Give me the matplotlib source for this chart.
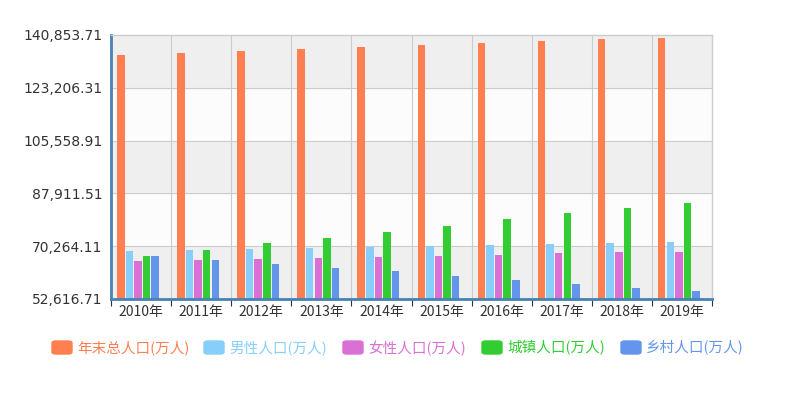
import matplotlib

matplotlib.use('Agg')
import matplotlib.pyplot as plt
from matplotlib.patches import FancyBboxPatch
import numpy as np

plt.rcParams['font.family'] = ['Noto Sans CJK SC', 'DejaVu Sans']

years = ['2010年', '2011年', '2012年', '2013年', '2014年',
         '2015年', '2016年', '2017年', '2018年', '2019年']
series_names = ['年末总人口(万人)', '男性人口(万人)', '女性人口(万人)',
                '城镇人口(万人)', '乡村人口(万人)']
total = [134091, 134735, 135404, 136072, 136782, 137462, 138271, 139008, 139538, 140005]
male = [68748, 69068, 69395, 69728, 70079, 70414, 70815, 71137, 71351, 71527]
female = [65343, 65667, 66009, 66344, 66703, 67048, 67456, 67871, 68187, 68478]
urban = [66978, 69079, 71182, 73111, 74916, 77116, 79298, 81347, 83137, 84843]
rural = [67113, 65656, 64222, 62961, 61866, 60346, 58973, 57661, 56401, 55162]
colors = ['#ff7f50', '#87cefa', '#da70d6', '#32cd32', '#6495ed']

y_min, y_max = 52616.71, 140853.71
y_ticks = np.linspace(y_min, y_max, 6)

fig = plt.figure(figsize=(7.92, 3.95), dpi=100)
ax = fig.add_axes([111 / 792, 1 - 299 / 395, 601 / 792, 264 / 395])

# 交替背景色带
for i in range(5):
    c = '#efefef' if i % 2 == 0 else '#fcfcfc'
    ax.axhspan(y_ticks[i], y_ticks[i + 1], color=c, zorder=0)
for t in y_ticks[1:-1]:
    ax.axhline(t, color='#cccccc', lw=0.8, zorder=1)
for k in range(1, len(years)):
    ax.axvline(k, color='#cccccc', lw=0.8, zorder=1)

x = np.arange(len(years))
bw = 7.5 / 60
step = 8.6 / 60
start = 6 / 60 + bw / 2
for j, vals in enumerate([total, male, female, urban, rural]):
    ax.bar(x + start + j * step, np.array(vals) - y_min, bottom=y_min,
           width=bw, color=colors[j], zorder=2)

ax.set_xlim(0, len(years))
ax.set_ylim(y_min, y_max)
ax.set_yticks(y_ticks)
ax.set_yticklabels([f'{v:,.2f}' for v in y_ticks], fontsize=10, color='#333333',
                   family=['DejaVu Sans'])
ax.tick_params(axis='y', length=0, pad=6)
ax.set_xticks(np.arange(len(years) + 1))
ax.set_xticklabels([])
ax.set_xticks(x + 0.5, minor=True)
ax.set_xticklabels(years, minor=True, fontsize=10, color='#333333')
ax.tick_params(axis='x', which='major', length=5, color='#333333', direction='out')
ax.tick_params(axis='x', which='minor', length=0, pad=4)

for s in ['top', 'right']:
    ax.spines[s].set_color('#cccccc')
    ax.spines[s].set_linewidth(1)
ax.spines['left'].set_color('#4682b4')
ax.spines['left'].set_linewidth(2)
ax.spines['bottom'].set_color('#4682b4')
ax.spines['bottom'].set_linewidth(2)

# 图例
lx = [52, 204, 343, 482, 621]
for j, name in enumerate(series_names):
    p = FancyBboxPatch(((lx[j]) / 792, 1 - 354 / 395), 20 / 792, 13 / 395,
                       boxstyle='round,pad=0,rounding_size=0.005',
                       transform=fig.transFigure, color=colors[j])
    fig.patches.append(p)
    fig.text((lx[j] + 25) / 792, 1 - 348 / 395, name, color=colors[j],
             fontsize=10.5, va='center', ha='left')

fig.savefig('out.png', dpi=100)
